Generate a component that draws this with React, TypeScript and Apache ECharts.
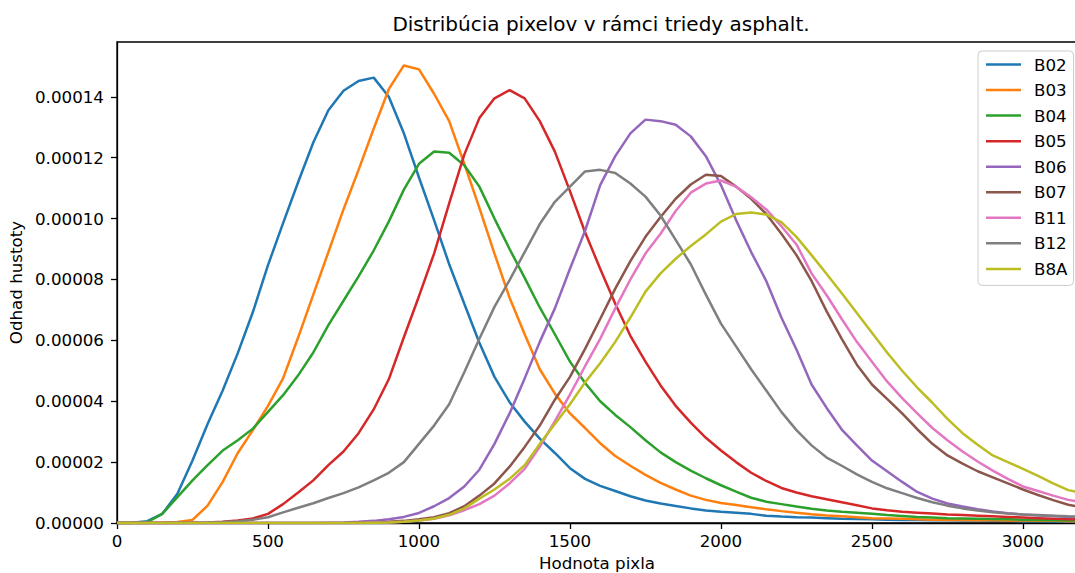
import React, { useEffect, useRef } from "react";
import * as echarts from "echarts";

// x sample positions (pixel values)
const xValues = [
  0, 50, 100, 150, 200, 250, 300, 350, 400, 450, 500, 550, 600, 650, 700, 750,
  800, 850, 900, 950, 1000, 1050, 1100, 1150, 1200, 1250, 1300, 1350, 1400, 1450, 1500, 1550,
  1600, 1650, 1700, 1750, 1800, 1850, 1900, 1950, 2000, 2050, 2100, 2150, 2200, 2250, 2300, 2350,
  2400, 2450, 2500, 2550, 2600, 2650, 2700, 2750, 2800, 2850, 2900, 2950, 3000, 3050, 3100, 3150,
  3200,
];

// density values in units of 1e-5
const b02 = [
  0, 0.01, 0.06, 0.3, 0.96, 2.05, 3.25, 4.35, 5.58, 6.93, 8.47, 9.85, 11.2, 12.5, 13.56, 14.2,
  14.52, 14.63, 14.0, 12.8, 11.35, 9.95, 8.5, 7.2, 5.92, 4.8, 3.97, 3.33, 2.77, 2.3, 1.8, 1.45,
  1.22, 1.05, 0.88, 0.74, 0.64, 0.56, 0.48, 0.41, 0.37, 0.34, 0.3, 0.24, 0.21, 0.19, 0.18, 0.16,
  0.14, 0.13, 0.12, 0.11, 0.1, 0.1, 0.09, 0.09, 0.08, 0.08, 0.07, 0.07, 0.06, 0.06, 0.05, 0.05,
  0.05,
];
const b03 = [
  0, 0, 0, 0.01, 0.03, 0.1, 0.57, 1.35, 2.3, 3.05, 3.85, 4.75, 6.1, 7.5, 8.9, 10.3,
  11.6, 12.95, 14.25, 15.03, 14.9, 14.1, 13.2, 11.8, 10.35, 8.85, 7.4, 6.2, 5.05, 4.25, 3.6, 3.12,
  2.62, 2.2, 1.88, 1.58, 1.32, 1.1, 0.9, 0.76, 0.66, 0.59, 0.52, 0.45, 0.39, 0.34, 0.29, 0.25,
  0.22, 0.19, 0.16, 0.15, 0.14, 0.12, 0.11, 0.1, 0.1, 0.09, 0.09, 0.08, 0.08, 0.07, 0.07, 0.06,
  0.06,
];
const b04 = [
  0, 0, 0.03, 0.3, 0.85, 1.4, 1.9, 2.38, 2.72, 3.1, 3.65, 4.2, 4.85, 5.6, 6.5, 7.3,
  8.1, 8.95, 9.9, 10.95, 11.8, 12.2, 12.16, 11.75, 11.05, 10.0, 9.0, 8.05, 7.08, 6.2, 5.3, 4.6,
  4.0, 3.55, 3.15, 2.72, 2.32, 2.0, 1.72, 1.47, 1.24, 1.03, 0.83, 0.7, 0.62, 0.54, 0.47, 0.41,
  0.37, 0.34, 0.3, 0.26, 0.23, 0.2, 0.18, 0.16, 0.15, 0.14, 0.13, 0.12, 0.11, 0.1, 0.09, 0.08,
  0.08,
];
const b05 = [
  0, 0, 0, 0, 0, 0.01, 0.02, 0.04, 0.08, 0.15, 0.3, 0.62, 1.0, 1.4, 1.9, 2.35,
  2.95, 3.73, 4.72, 6.1, 7.45, 8.85, 10.5, 12.1, 13.3, 13.95, 14.22, 13.95, 13.2, 12.2, 10.9, 9.55,
  8.35, 7.2, 6.15, 5.3, 4.52, 3.85, 3.3, 2.8, 2.38, 2.0, 1.65, 1.38, 1.15, 1.0, 0.88, 0.78,
  0.68, 0.58, 0.48, 0.42, 0.37, 0.34, 0.31, 0.28, 0.26, 0.24, 0.22, 0.2, 0.18, 0.16, 0.14, 0.12,
  0.12,
];
const b06 = [
  0, 0, 0, 0, 0, 0, 0, 0, 0, 0, 0, 0, 0, 0, 0.01, 0.02,
  0.04, 0.07, 0.12, 0.2, 0.33, 0.55, 0.82, 1.2, 1.75, 2.6, 3.6, 4.75, 5.95, 7.05, 8.35, 9.6,
  11.1, 12.05, 12.8, 13.25, 13.2, 13.08, 12.7, 12.05, 11.1, 9.95, 8.9, 7.95, 6.75, 5.7, 4.55, 3.78,
  3.07, 2.55, 2.05, 1.7, 1.35, 1.02, 0.8, 0.64, 0.54, 0.45, 0.38, 0.32, 0.28, 0.25, 0.23, 0.2,
  0.19,
];
const b07 = [
  0, 0, 0, 0, 0, 0, 0, 0, 0, 0, 0, 0, 0, 0, 0, 0,
  0.01, 0.02, 0.04, 0.07, 0.12, 0.19, 0.32, 0.55, 0.9, 1.3, 1.85, 2.5, 3.2, 4.05, 4.8, 5.72,
  6.7, 7.7, 8.6, 9.4, 10.05, 10.65, 11.12, 11.44, 11.4, 11.05, 10.65, 10.15, 9.5, 8.8, 7.95, 6.95,
  6.05, 5.2, 4.55, 4.08, 3.6, 3.08, 2.6, 2.22, 1.95, 1.7, 1.5, 1.3, 1.1, 0.92, 0.75, 0.6,
  0.5,
];
const b11 = [
  0, 0, 0, 0, 0, 0, 0, 0, 0, 0, 0, 0, 0, 0, 0, 0,
  0, 0.01, 0.02, 0.04, 0.08, 0.14, 0.25, 0.42, 0.62, 0.9, 1.3, 1.78, 2.5, 3.35, 4.22, 5.15,
  6.05, 7.05, 8.0, 8.85, 9.5, 10.25, 10.85, 11.15, 11.25, 11.05, 10.7, 10.3, 9.75, 9.15, 8.2, 7.48,
  6.7, 5.95, 5.3, 4.65, 4.1, 3.6, 3.12, 2.72, 2.35, 2.02, 1.72, 1.45, 1.2, 1.05, 0.9, 0.76,
  0.68,
];
const b12 = [
  0, 0, 0, 0, 0, 0, 0.01, 0.03, 0.06, 0.11, 0.19, 0.35, 0.5, 0.65, 0.82, 0.98,
  1.17, 1.4, 1.65, 2.0, 2.6, 3.2, 3.9, 4.95, 6.05, 7.1, 7.98, 8.9, 9.82, 10.55, 11.05, 11.55,
  11.6, 11.5, 11.15, 10.72, 10.1, 9.3, 8.5, 7.5, 6.55, 5.8, 5.05, 4.35, 3.65, 3.05, 2.55, 2.15,
  1.88, 1.6, 1.35, 1.14, 0.98, 0.82, 0.68, 0.57, 0.48, 0.41, 0.35, 0.31, 0.28, 0.26, 0.24, 0.22,
  0.21,
];
const b8a = [
  0, 0, 0, 0, 0, 0, 0, 0, 0, 0, 0, 0, 0, 0, 0, 0,
  0, 0.01, 0.02, 0.04, 0.08, 0.15, 0.27, 0.48, 0.8, 1.1, 1.45, 1.9, 2.6, 3.25, 3.9, 4.62,
  5.25, 5.95, 6.75, 7.6, 8.2, 8.68, 9.1, 9.48, 9.9, 10.15, 10.2, 10.13, 9.88, 9.4, 8.8, 8.18,
  7.55, 6.9, 6.25, 5.6, 5.0, 4.45, 3.95, 3.42, 2.95, 2.57, 2.22, 2.0, 1.78, 1.55, 1.3, 1.08,
  0.98,
];

const seriesNames = ["B02", "B03", "B04", "B05", "B06", "B07", "B11", "B12", "B8A"];
const seriesValues = [b02, b03, b04, b05, b06, b07, b11, b12, b8a];
const colors = [
  "#1f77b4", "#ff7f0e", "#2ca02c", "#d62728", "#9467bd",
  "#8c564b", "#e377c2", "#7f7f7f", "#bcbd22",
];

const xTicks = [0, 500, 1000, 1500, 2000, 2500, 3000];
const yTicks = [0, 0.00002, 0.00004, 0.00006, 0.00008, 0.0001, 0.00012, 0.00014];

const titleText = "Distribúcia pixelov v rámci triedy asphalt.";
const xName = "Hodnota pixla";
const yName = "Odhad hustoty";

const FONT = "DejaVu Sans";

export default function App() {
  const ref = useRef<HTMLDivElement>(null);

  useEffect(() => {
    if (!ref.current) return;
    const chart = echarts.init(ref.current, null, { renderer: "svg" });

    const series = seriesNames.map((name, si) => ({
      name,
      type: "line",
      data: xValues.map((x, i) => [x, seriesValues[si][i] * 1e-5]),
      showSymbol: false,
      symbol: "none",
      clip: true,
      color: colors[si],
      lineStyle: { width: 2.5, color: colors[si] },
      emphasis: { disabled: true },
    }));

    chart.setOption({
      animation: false,
      backgroundColor: "#ffffff",
      textStyle: { fontFamily: FONT },
      grid: {
        left: 117,
        top: 42,
        width: 960,
        height: 481,
        outerBoundsMode: "none",
        containLabel: false,
        show: true,
        borderColor: "#000000",
        borderWidth: 1.3,
        backgroundColor: "transparent",
      },
      xAxis: {
        type: "value",
        min: 0,
        max: 3179,
        interval: 500,
        name: xName,
        nameLocation: "middle",
        nameGap: 31,
        nameTextStyle: { fontSize: 16.7, color: "#000", fontFamily: FONT },
        axisLine: { show: true, lineStyle: { color: "#000", width: 1.3 } },
        axisTick: {
          show: true,
          length: 6,
          customValues: xTicks,
          lineStyle: { color: "#000", width: 1.3 },
        },
        axisLabel: {
          customValues: xTicks,
          fontSize: 16.7,
          color: "#000",
          fontFamily: FONT,
          margin: 9,
          formatter: (v: number) => String(Math.round(v)),
        },
        splitLine: { show: false },
      },
      yAxis: {
        type: "value",
        min: 0,
        max: 0.000158,
        interval: 0.00002,
        name: yName,
        nameLocation: "middle",
        nameGap: 92,
        nameTextStyle: { fontSize: 16.7, color: "#000", fontFamily: FONT },
        axisLine: { show: true, lineStyle: { color: "#000", width: 1.3 } },
        axisTick: {
          show: true,
          length: 6,
          customValues: yTicks,
          lineStyle: { color: "#000", width: 1.3 },
        },
        axisLabel: {
          customValues: yTicks,
          fontSize: 16.7,
          color: "#000",
          fontFamily: FONT,
          margin: 13,
          formatter: (v: number) => v.toFixed(5),
        },
        splitLine: { show: false },
      },
      legend: {
        data: seriesNames,
        orient: "vertical",
        left: 978,
        top: 51,
        icon: "rect",
        itemWidth: 35,
        itemHeight: 2.5,
        itemGap: 8.55,
        padding: [5, 6, 8, 8],
        borderColor: "#cccccc",
        borderWidth: 1,
        borderRadius: 4,
        backgroundColor: "rgba(255,255,255,0.8)",
        selectedMode: false,
        textStyle: {
          fontSize: 16.7,
          color: "#000",
          fontFamily: FONT,
          padding: [0, 0, 0, 8],
        },
      },
      graphic: [
        {
          type: "text",
          x: 601,
          y: 24,
          style: {
            text: titleText,
            fontSize: 20,
            fontFamily: FONT,
            fill: "#000",
            align: "center",
            verticalAlign: "middle",
          },
        },
      ],
      series,
    });

    return () => chart.dispose();
  }, []);

  return (
    <div
      ref={ref}
      style={{ position: "fixed", left: 0, top: 0, width: 1075, height: 573 }}
    />
  );
}
